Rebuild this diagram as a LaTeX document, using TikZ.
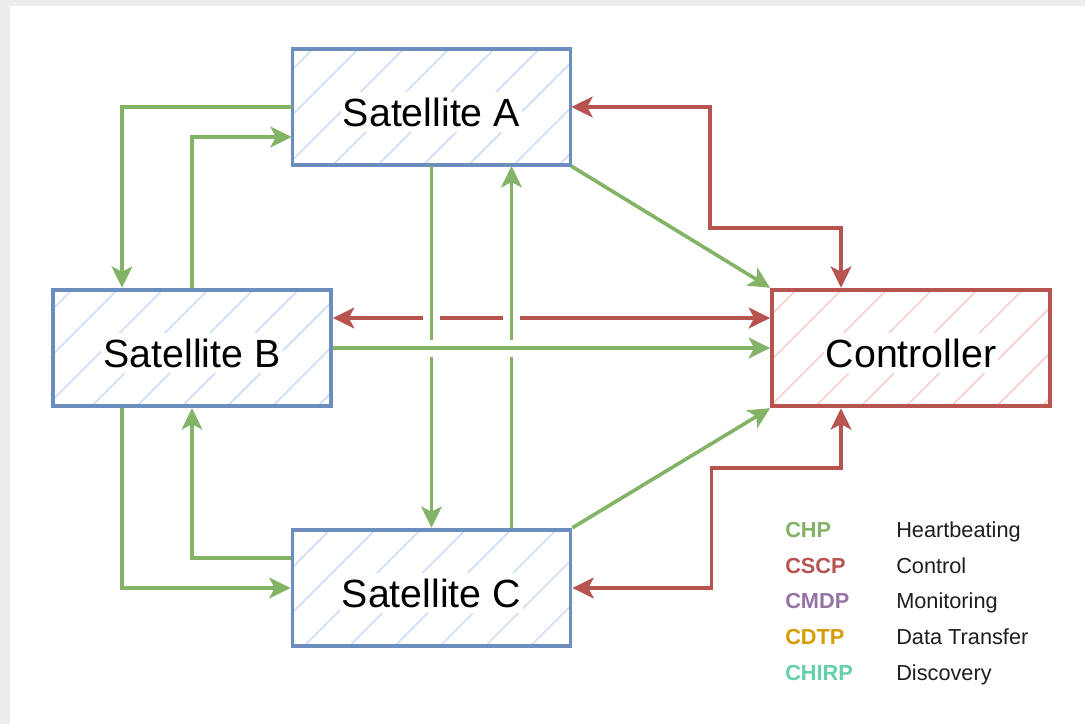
\documentclass[tikz,border=0pt]{standalone}
\usepackage{fontspec}
\setmainfont{Liberation Sans}
\usetikzlibrary{arrows.meta, calc, patterns.meta}
\definecolor{hbgreen}{HTML}{82B366}
\definecolor{ctlred}{HTML}{B85450}
\definecolor{monpurple}{HTML}{9673A6}
\definecolor{dtorange}{HTML}{D79B00}
\definecolor{chirpteal}{HTML}{62D0A8}
\definecolor{satblue}{HTML}{6C8EBF}
\definecolor{hatchblue}{HTML}{CCDDF8}
\definecolor{hatchred}{HTML}{F7CAC8}
\definecolor{pagegray}{HTML}{EDEDED}
\definecolor{legendtxt}{HTML}{1E1E1E}

\tikzset{
  boxbase/.style={line width=2.8pt, minimum width=208.5pt, minimum height=87.5pt, inner sep=0pt},
  satbox/.style={boxbase, draw=satblue, pattern={Lines[angle=45,distance=24pt,line width=1.1pt]}, pattern color=hatchblue},
  ctrlbox/.style={boxbase, draw=ctlred, pattern={Lines[angle=45,distance=24pt,line width=1.1pt]}, pattern color=hatchred},
  boxlabel/.style={fill=white, inner xsep=1.5pt, inner ysep=4pt, yshift=-3.75pt, font=\fontsize{29.5pt}{32pt}\selectfont},
  tip/.style={-{Stealth[length=16pt,width=15.5pt,inset=4pt]}},
  hbarrow/.style={draw=hbgreen, line width=2.7pt, tip},
  ctlarrow/.style={draw=ctlred, line width=2.7pt, {Stealth[length=16pt,width=15.5pt,inset=4pt]}-{Stealth[length=16pt,width=15.5pt,inset=4pt]}},
  gapline/.style={preaction={draw=white, line width=12.75pt, shorten <=15pt, shorten >=15pt, -}},
  legkey/.style={anchor=base west, inner sep=0pt, font=\fontsize{16.3pt}{18pt}\selectfont\bfseries},
  legtxt/.style={anchor=base west, inner sep=0pt, text=legendtxt, font=\fontsize{16.3pt}{18pt}\selectfont}
}

\begin{document}
\begin{tikzpicture}[x=0.75pt,y=0.75pt,yscale=-1,xscale=1]
%set diagram size to 1085 x 724
\fill[pagegray] (0,0) rectangle (1085,724);
\fill[white] (10,6) rectangle (1085,724);

% Boxes
\node[satbox] (satA) at (431.5,107) {};
\node[satbox] (satB) at (192,348) {};
\node[satbox] (satC) at (431.5,588) {};
\node[ctrlbox] (ctrl) at (911,348) {};
% Text Node
\node[boxlabel] (satAtxt) at (satA) {Satellite A};
\node[boxlabel] (satBtxt) at (satB) {Satellite B};
\node[boxlabel] (satCtxt) at (satC) {Satellite C};
\node[boxlabel] (ctrltxt) at (ctrl) {Controller};

%Control connections
\draw[ctlarrow] ($(satB.east)+(0,-30)$) -- ($(ctrl.west)+(0,-30)$);
\draw[ctlarrow] (satA.east) -- ++(139,0) |- ($(ctrl.north)+(-70,-60)$) -- ($(ctrl.north)+(-70,0)$);
\draw[ctlarrow] (satC.east) -- ++(139,0) |- ($(ctrl.south)+(-70,60)$) -- ($(ctrl.south)+(-70,0)$);

%Heartbeat connections
\draw[hbarrow] (satA.west) -| ($(satB.north)+(-70,0)$);
\draw[hbarrow] (satB.north) |- ($(satA.west)+(0,30)$);
\draw[hbarrow] ($(satB.south)+(-70,0)$) |- (satC.west);
\draw[hbarrow] ($(satC.west)+(0,-30)$) -| (satB.south);
\draw[hbarrow, gapline] (satA.south) -- (satC.north);
\draw[hbarrow, gapline] ($(satC.north)+(80,0)$) -- ($(satA.south)+(80,0)$);
\draw[hbarrow, gapline] (satB.east) -- (ctrl.west);
\draw[hbarrow] (satA.south east) -- (ctrl.north west);
\draw[hbarrow] (satC.north east) -- (ctrl.south west);

% Legend
\node[legkey, text=hbgreen] (keyCHP) at (785,537) {CHP};
\node[legkey, text=ctlred] (keyCSCP) at (785,573) {CSCP};
\node[legkey, text=monpurple] (keyCMDP) at (785,608) {CMDP};
\node[legkey, text=dtorange] (keyCDTP) at (785,644) {CDTP};
\node[legkey, text=chirpteal] (keyCHIRP) at (785,680) {CHIRP};
\node[legtxt] (txtCHP) at (896,537) {Heartbeating};
\node[legtxt] (txtCSCP) at (896,573) {Control};
\node[legtxt] (txtCMDP) at (896,608) {Monitoring};
\node[legtxt] (txtCDTP) at (896,644) {Data Transfer};
\node[legtxt] (txtCHIRP) at (896,680) {Discovery};

\end{tikzpicture}
\end{document}
